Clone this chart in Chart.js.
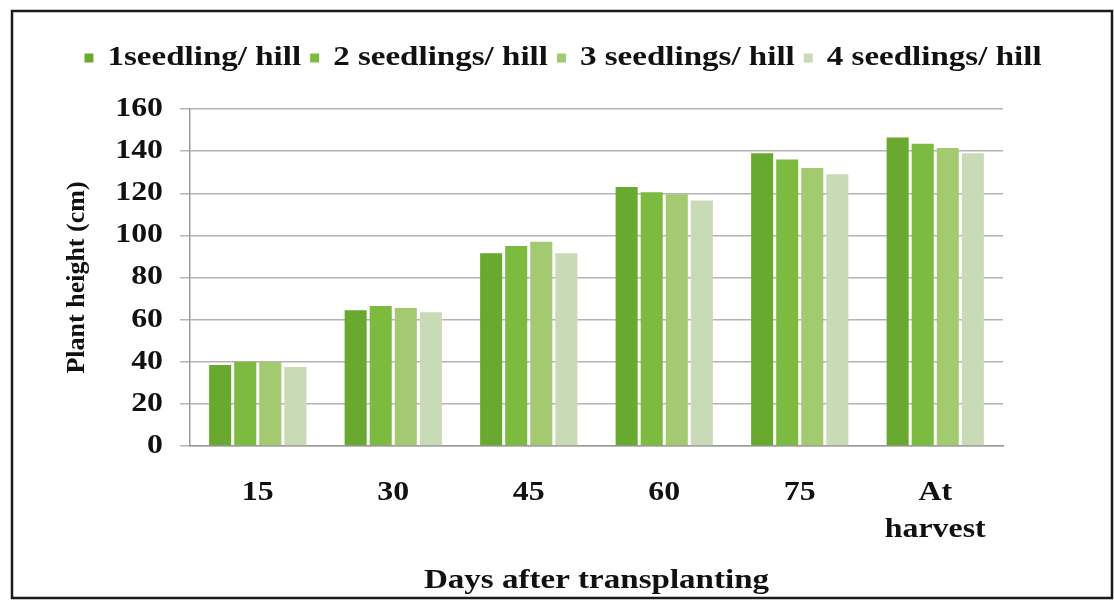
<!DOCTYPE html>
<html>
<head>
<meta charset="utf-8">
<script src="https://cdn.jsdelivr.net/npm/chart.js@4"></script>
<style>
  html, body { margin: 0; padding: 0; background: #fff; }
  #wrap { width: 1114px; height: 601px; }
</style>
</head>
<body>
<div id="wrap"><canvas id="bars" width="1114" height="601"></canvas></div>
<script>
// values (cm)
var categories = ['15', '30', '45', '60', '75', ['At', 'harvest']];
var seriesNames = ['1seedling/ hill', '2 seedlings/ hill', '3 seedlings/ hill', '4 seedlings/ hill'];
var oneSeedling = [38.5, 64.5, 91.5, 123, 139, 146.5];
var twoSeedlings = [40, 66.5, 95, 120.5, 136, 143.5];
var threeSeedlings = [40, 65.5, 97, 119.5, 132, 141.5];
var fourSeedlings = [37.5, 63.5, 91.5, 116.5, 129, 139];
var yTicks = [0, 20, 40, 60, 80, 100, 120, 140, 160];

var colors = ['#69a92f', '#7dbb40', '#a3c971', '#c9dab6'];
var serif = '"Liberation Serif", "Times New Roman", serif';
var textStretch = 1.18; // the scanned figure has wide-looking lettering

// frame around the whole figure
var framePlugin = {
  id: 'frame',
  afterDraw: function (chart) {
    var c = chart.ctx;
    c.save();
    c.strokeStyle = '#1a1a1a';
    c.lineWidth = 2.5;
    c.strokeRect(12, 11, 1100, 587);
    c.restore();
  }
};

// leave room between legend and plot
var legendGap = {
  id: 'legendGap',
  beforeInit: function (chart) {
    var fit = chart.legend.fit;
    chart.legend.fit = function () {
      fit.bind(chart.legend)();
      this.height += 27;
    };
  }
};

// widen horizontal text a little, like the original scan
var wideText = {
  id: 'wideText',
  beforeInit: function (chart) {
    var ctx = chart.ctx;
    var fill = ctx.fillText.bind(ctx);
    var measure = ctx.measureText.bind(ctx);
    var turned = function () {
      var m = ctx.getTransform();
      return Math.abs(m.b) > 1e-6 || Math.abs(m.c) > 1e-6;
    };
    ctx.fillText = function (t, x, y, mw) {
      if (turned()) return fill(t, x, y);
      ctx.save();
      ctx.translate(x, y);
      ctx.scale(textStretch, 1);
      fill(t, 0, 0);
      ctx.restore();
    };
    ctx.measureText = function (t) {
      var r = measure(t);
      return {
        width: r.width * textStretch,
        actualBoundingBoxAscent: r.actualBoundingBoxAscent,
        actualBoundingBoxDescent: r.actualBoundingBoxDescent,
        actualBoundingBoxLeft: r.actualBoundingBoxLeft,
        actualBoundingBoxRight: r.actualBoundingBoxRight
      };
    };
  }
};

var allSeries = [oneSeedling, twoSeedlings, threeSeedlings, fourSeedlings];

new Chart(document.getElementById('bars'), {
  type: 'bar',
  data: {
    labels: categories,
    datasets: allSeries.map(function (vals, i) {
      return {
        label: seriesNames[i],
        data: vals,
        backgroundColor: colors[i],
        borderWidth: 0,
        categoryPercentage: 0.74,
        barPercentage: 0.88
      };
    })
  },
  options: {
    responsive: false,
    animation: false,
    devicePixelRatio: 1,
    layout: { padding: { left: 22, right: 10, top: 35, bottom: 3 } },
    plugins: {
      tooltip: { enabled: false },
      legend: {
        position: 'top',
        labels: {
          boxWidth: 9,
          boxHeight: 9,
          padding: 9,
          color: '#111',
          font: { family: serif, size: 28, weight: 'bold' }
        }
      }
    },
    scales: {
      x: {
        grid: { display: false, drawTicks: false },
        border: { display: true, color: '#9a9a9a', width: 1.5 },
        ticks: {
          padding: 29,
          color: '#111',
          maxRotation: 0,
          font: { family: serif, size: 27, weight: 'bold', lineHeight: 1.35 }
        },
        title: {
          display: true,
          text: 'Days after transplanting',
          color: '#111',
          padding: { top: 16, bottom: 0 },
          font: { family: serif, size: 28, weight: 'bold' }
        },
        afterFit: function (s) { s.height = 152; }
      },
      y: {
        min: 0,
        max: 160,
        afterBuildTicks: function (s) {
          s.ticks = yTicks.map(function (v) { return { value: v }; });
        },
        grid: { color: '#b4b4b4', lineWidth: 1.5, tickLength: 10 },
        border: { display: true, color: '#9a9a9a', width: 1.5 },
        ticks: {
          padding: 17,
          color: '#111',
          font: { family: serif, size: 27, weight: 'bold' }
        },
        title: {
          display: true,
          text: 'Plant height (cm)',
          color: '#111',
          padding: { top: 40, bottom: 0 },
          font: { family: serif, size: 26, weight: 'bold' }
        },
        afterFit: function (s) { s.width = 168; }
      },
      yR: {
        position: 'right',
        display: true,
        grid: { display: false, drawTicks: false },
        border: { display: false },
        ticks: { display: false },
        afterFit: function (s) { s.width = 101; }
      }
    }
  },
  plugins: [framePlugin, legendGap, wideText]
});
</script>
</body>
</html>
